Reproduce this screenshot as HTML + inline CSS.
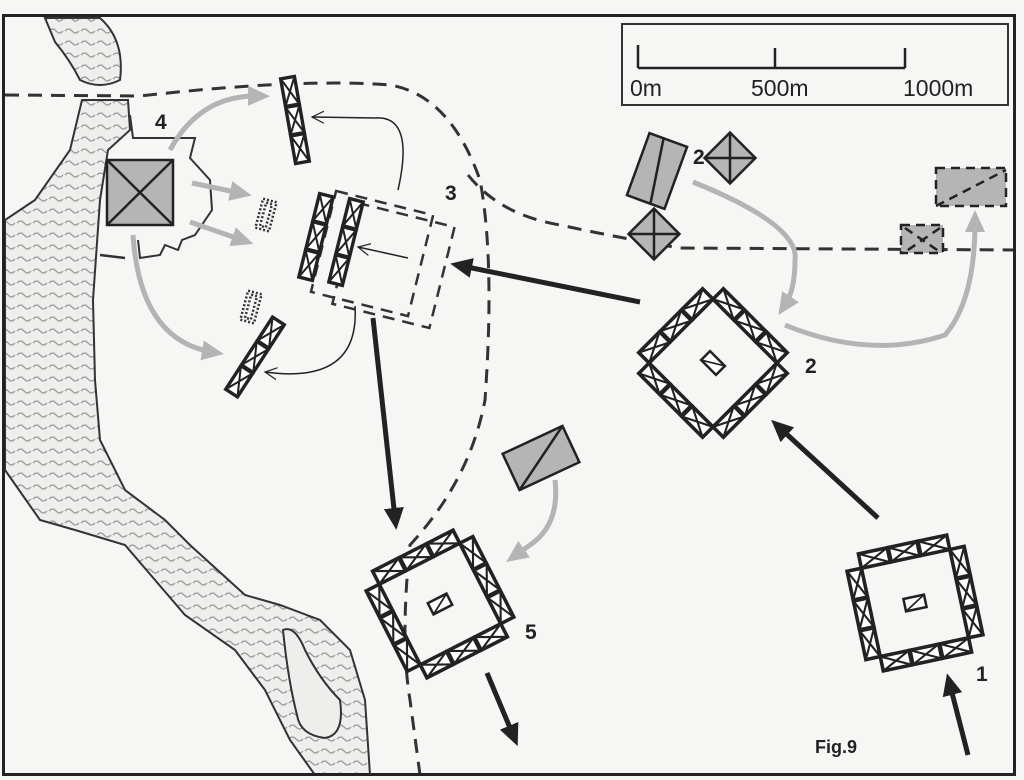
<!DOCTYPE html>
<html><head><meta charset="utf-8"><style>
html,body{margin:0;padding:0;background:#f6f6f4;}
svg{display:block;}
text{font-family:"Liberation Sans",Arial,sans-serif;font-weight:bold;fill:#222;}
</style></head><body>
<svg width="1024" height="780" viewBox="0 0 1024 780" xmlns="http://www.w3.org/2000/svg">
<defs>
<pattern id="wv" width="16" height="12" patternUnits="userSpaceOnUse">
<rect width="16" height="12" fill="#eeeeec"/>
<path d="M1 7 q3.5 -4 7 0 q3.5 4 7 0" fill="none" stroke="#9a9a9a" stroke-width="1.3"/>
</pattern>
<g id="u"><rect x="-7" y="-14" width="14" height="28" fill="#fff" stroke="#222" stroke-width="3.4"/><path d="M-7 -14 L7 14 M7 -14 L-7 14" stroke="#222" stroke-width="2"/></g>
<g id="h"><rect x="-14" y="-7" width="28" height="14" fill="#fff" stroke="#222" stroke-width="3.4"/><path d="M-14 -7 L14 7 M14 -7 L-14 7" stroke="#222" stroke-width="2"/></g>
<g id="sq">
<use href="#h" x="-29" y="-50"/><use href="#h" x="0" y="-50"/><use href="#h" x="29" y="-50"/>
<use href="#h" x="-29" y="50"/><use href="#h" x="0" y="50"/><use href="#h" x="29" y="50"/>
<use href="#u" x="-50" y="-29"/><use href="#u" x="-50" y="0"/><use href="#u" x="-50" y="29"/>
<use href="#u" x="50" y="-29"/><use href="#u" x="50" y="0"/><use href="#u" x="50" y="29"/>
<rect x="-10" y="-6" width="20" height="12" fill="#fff" stroke="#222" stroke-width="2.4"/><path d="M-10 6 L10 -6" stroke="#222" stroke-width="1.6"/>
</g>
<marker id="ab" markerWidth="4.4" markerHeight="4" refX="2" refY="2" orient="auto" markerUnits="strokeWidth"><path d="M0 0 L4.4 2 L0 4 Z" fill="#222"/></marker>
<marker id="ag" markerWidth="4.4" markerHeight="4" refX="2" refY="2" orient="auto" markerUnits="strokeWidth"><path d="M0 0 L4.4 2 L0 4 Z" fill="#b4b4b4"/></marker>
<marker id="at" markerWidth="14" markerHeight="14" refX="12" refY="7" orient="auto" markerUnits="userSpaceOnUse"><path d="M0 1 L12 7 L0 13" fill="none" stroke="#222" stroke-width="1.2"/></marker>
</defs>

<!-- water -->
<path d="M45 18 L100 18 Q125 40 120 80 Q100 90 80 80 Q70 60 55 42 Z" fill="url(#wv)" stroke="#333" stroke-width="2"/>
<path d="M82 100 L128 100 L130 130 L108 150 L100 200 L93 300 L95 380 L100 440 L125 490 L165 520 L190 545 L245 595 L280 605 L320 620 L350 650 L365 700 L370 775 L315 775 L290 740 L265 690 L235 650 L185 615 L155 580 L125 545 L75 530 L40 520 L5 470 L5 220 L35 200 L70 150 Z" fill="url(#wv)" stroke="#333" stroke-width="2"/>
<path d="M283 630 Q295 625 305 650 Q320 680 340 700 Q345 735 325 738 Q300 735 297 715 Q288 680 283 630 Z" fill="#eeeeec" stroke="#333" stroke-width="2"/>

<!-- roads -->
<g fill="none" stroke="#333" stroke-width="3" stroke-dasharray="14 9">
<path d="M5 95 L140 96 Q300 78 390 85 Q450 95 480 180 Q495 260 485 400 Q470 480 410 545 Q400 640 410 700 L420 775"/>
<path d="M468 175 Q500 215 560 225 Q620 238 680 248 L1015 250"/>
</g>
<!-- fortification outline 4 -->
<path d="M130 115 L133 138 L195 138 L190 158 L210 180 L212 210 L195 235 L182 240 L178 250 L165 245 L160 255 L140 258 L138 240" fill="none" stroke="#333" stroke-width="2"/>
<path d="M100 255 L125 258" stroke="#333" stroke-width="2.5"/>

<!-- frame -->
<rect x="3.5" y="15.5" width="1011" height="759" fill="none" stroke="#222" stroke-width="3"/>

<!-- scale -->
<rect x="622" y="24" width="386" height="81" fill="#f6f6f4" stroke="#333" stroke-width="2"/>
<path d="M638 68 H905 M638 68 V45 M775 68 V48 M905 68 V48" stroke="#222" stroke-width="2.5" fill="none"/>
<text x="630" y="96" font-size="23" style="font-weight:normal">0m</text>
<text x="751" y="96" font-size="23" style="font-weight:normal">500m</text>
<text x="903" y="96" font-size="23" style="font-weight:normal">1000m</text>

<!-- gray units -->
<g stroke="#222" stroke-width="2.5" fill="#b5b5b5">
<rect x="107" y="160" width="66" height="65"/><path d="M107 160 L173 225 M173 160 L107 225" fill="none"/>
<g transform="translate(657,171) rotate(20)"><rect x="-20" y="-33" width="40" height="66"/><path d="M-5 -33 L5 33" fill="none"/></g>
<g transform="translate(730,158) rotate(45)"><rect x="-18" y="-18" width="36" height="36"/><path d="M-18 -18 L18 18 M18 -18 L-18 18" fill="none"/></g>
<g transform="translate(654,234) rotate(45)"><rect x="-18" y="-18" width="36" height="36"/><path d="M-18 -18 L18 18 M18 -18 L-18 18" fill="none"/></g>
<g transform="translate(541,458) rotate(-25)"><rect x="-33" y="-20" width="66" height="40"/><path d="M-33 20 L33 -20" fill="none"/></g>
<g stroke-dasharray="9 6"><rect x="936" y="168" width="70" height="38"/><path d="M936 206 L1006 170" fill="none"/>
<rect x="901" y="225" width="42" height="28"/><path d="M905 228 L940 252 M940 228 L905 252" fill="none"/></g>
</g>

<!-- dashed box 3 -->
<g fill="none" stroke="#333" stroke-width="2.5" stroke-dasharray="12 8">
<g transform="translate(374,254) rotate(14)"><rect x="-52" y="-52" width="100" height="104"/></g>
<g transform="translate(392,263) rotate(14)"><rect x="-48" y="-50" width="100" height="104"/></g>
</g>
<!-- dotted ghost units -->
<g fill="none" stroke="#333" stroke-width="2.5" stroke-dasharray="2 2">
<rect x="-7" y="-15" width="14" height="30" transform="translate(266,215) rotate(15)"/>
<rect x="-3" y="-12" width="6" height="24" transform="translate(266,215) rotate(15)"/>
<rect x="-7" y="-15" width="14" height="30" transform="translate(251,307) rotate(15)"/>
<rect x="-3" y="-12" width="6" height="24" transform="translate(251,307) rotate(15)"/>
</g>

<!-- line units -->
<g transform="translate(295,120) rotate(-10)"><use href="#u" y="-29"/><use href="#u" y="0"/><use href="#u" y="29"/></g>
<g transform="translate(316,237) rotate(14)"><use href="#u" y="-29"/><use href="#u" y="0"/><use href="#u" y="29"/></g>
<g transform="translate(346,242) rotate(14)"><use href="#u" y="-29"/><use href="#u" y="0"/><use href="#u" y="29"/></g>
<g transform="translate(255,357) rotate(33)"><use href="#u" y="-29"/><use href="#u" y="0"/><use href="#u" y="29"/></g>

<!-- squares -->
<use href="#sq" transform="translate(713,363) rotate(45) scale(1.05)"/>
<use href="#sq" transform="translate(915,603) rotate(-12) scale(1.05)"/>
<use href="#sq" transform="translate(440,604) rotate(-27) scale(1.05)"/>

<!-- thin arrows -->
<g fill="none" stroke="#222" stroke-width="1.5" marker-end="url(#at)">
<path d="M398 190 Q415 115 375 118 L312 117"/>
<path d="M408 258 L358 247"/>
<path d="M355 306 Q360 385 265 372"/>
</g>
<!-- gray arrows -->
<g fill="none" stroke="#b4b4b4" stroke-width="5" marker-end="url(#ag)">
<path d="M170 150 Q200 95 258 96"/>
<path d="M192 183 L240 193"/>
<path d="M190 222 L242 240"/>
<path d="M133 235 Q140 340 212 352"/>
<path d="M693 182 Q800 225 795 260 Q795 290 785 305"/>
<path d="M785 325 Q870 360 945 335 Q975 300 975 222"/>
<path d="M555 480 Q560 525 530 545 L516 555"/>
</g>
<!-- black arrows -->
<g fill="none" stroke="#222" stroke-width="5" marker-end="url(#ab)">
<path d="M640 302 L462 266"/>
<path d="M878 518 L780 428"/>
<path d="M373 318 L395 518"/>
<path d="M487 673 L513 735"/>
<path d="M968 755 L950 685"/>
</g>

<!-- labels -->
<text x="155" y="129" font-size="21">4</text>
<text x="445" y="200" font-size="21">3</text>
<text x="693" y="164" font-size="21">2</text>
<text x="805" y="373" font-size="21">2</text>
<text x="525" y="639" font-size="21">5</text>
<text x="976" y="681" font-size="21">1</text>
<text x="815" y="753" font-size="18">Fig.9</text>
</svg>
</body></html>
